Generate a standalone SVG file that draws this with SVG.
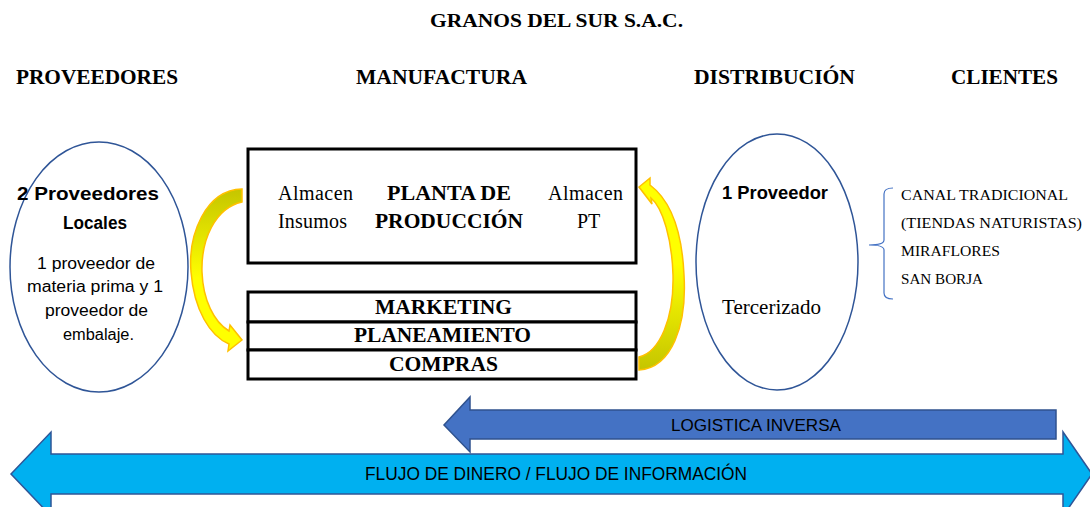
<svg xmlns="http://www.w3.org/2000/svg" width="1090" height="507" viewBox="0 0 1090 507">
<defs>
<style>
.serif{font-family:"Liberation Serif","Times New Roman",serif;fill:#000}
.b{font-weight:bold}
.sans{font-family:"Liberation Sans",Arial,sans-serif;fill:#000}
.hdr{font-size:20px;font-weight:bold}
.ell{fill:#fff;stroke:#2F5597;stroke-width:1.5}
.box{fill:#fff;stroke:#000;stroke-width:3}
.yarrow{stroke:#FFC000;stroke-width:1.5}
</style>
<linearGradient id="gL" x1="0" y1="0" x2="0" y2="1">
<stop offset="0" stop-color="#C5C500"/><stop offset="0.55" stop-color="#FFFF00"/><stop offset="1" stop-color="#FFFF00"/>
</linearGradient>
<linearGradient id="gR" x1="0" y1="1" x2="0" y2="0">
<stop offset="0" stop-color="#C5C500"/><stop offset="0.55" stop-color="#FFFF00"/><stop offset="1" stop-color="#FFFF00"/>
</linearGradient>
</defs>
<rect width="1090" height="507" fill="#fff"/>

<text class="serif b" x="430" y="27" font-size="19" textLength="253" lengthAdjust="spacingAndGlyphs">GRANOS DEL SUR S.A.C.</text>
<g id="headers">
<text class="serif hdr" x="16" y="84" textLength="162" lengthAdjust="spacingAndGlyphs">PROVEEDORES</text>
<text class="serif hdr" x="356" y="84" textLength="171" lengthAdjust="spacingAndGlyphs">MANUFACTURA</text>
<text class="serif hdr" x="694" y="84" textLength="161" lengthAdjust="spacingAndGlyphs">DISTRIBUCIÓN</text>
<text class="serif hdr" x="951" y="84" textLength="107" lengthAdjust="spacingAndGlyphs">CLIENTES</text>
</g>

<g id="proveedores">
<ellipse class="ell" cx="99" cy="267" rx="89" ry="125"/>
<text class="sans b" font-size="18" x="17" y="200" textLength="142" lengthAdjust="spacingAndGlyphs">2 Proveedores</text>
<text class="sans b" font-size="18" x="63" y="229" textLength="64" lengthAdjust="spacingAndGlyphs">Locales</text>
<text class="sans" font-size="16" x="37" y="269" textLength="118" lengthAdjust="spacingAndGlyphs">1 proveedor de</text>
<text class="sans" font-size="16" x="27" y="292" textLength="136" lengthAdjust="spacingAndGlyphs">materia prima y 1</text>
<text class="sans" font-size="16" x="45" y="316" textLength="103" lengthAdjust="spacingAndGlyphs">proveedor de</text>
<text class="sans" font-size="16" x="63" y="340" textLength="71" lengthAdjust="spacingAndGlyphs">embalaje.</text>
</g>

<g id="planta">
<rect class="box" x="248" y="149" width="388" height="114"/>
<text class="serif" font-size="20" x="278" y="200" textLength="75">Almacen</text>
<text class="serif" font-size="20" x="278" y="228" textLength="69">Insumos</text>
<text class="serif b" font-size="20" x="387" y="200" textLength="124" lengthAdjust="spacingAndGlyphs">PLANTA DE</text>
<text class="serif b" font-size="20" x="375" y="228" textLength="148" lengthAdjust="spacingAndGlyphs">PRODUCCIÓN</text>
<text class="serif" font-size="20" x="548" y="200" textLength="75">Almacen</text>
<text class="serif" font-size="20" x="577" y="228">PT</text>
</g>

<g id="areas">
<rect class="box" x="248" y="292" width="388" height="30"/>
<rect class="box" x="248" y="322" width="388" height="28"/>
<rect class="box" x="248" y="350" width="388" height="29"/>
<text class="serif b" font-size="20" x="375" y="314" textLength="137" lengthAdjust="spacingAndGlyphs">MARKETING</text>
<text class="serif b" font-size="20" x="354" y="342" textLength="177" lengthAdjust="spacingAndGlyphs">PLANEAMIENTO</text>
<text class="serif b" font-size="20" x="389" y="371" textLength="109" lengthAdjust="spacingAndGlyphs">COMPRAS</text>
</g>

<g id="distribucion">
<ellipse class="ell" cx="777" cy="262" rx="81" ry="128"/>
<text class="sans b" font-size="18" x="722" y="199" textLength="106" lengthAdjust="spacingAndGlyphs">1 Proveedor</text>
<text class="serif" font-size="20" x="722" y="314" textLength="99" lengthAdjust="spacingAndGlyphs">Tercerizado</text>
</g>

<g id="clientes">
<path d="M893,188 Q884,188 884,194 L884,240 Q884,245 869,245 Q884,245 884,250 L884,293 Q884,299 893,299" fill="none" stroke="#4472C4" stroke-width="1.2"/>
<text class="serif" font-size="15" x="901" y="200" textLength="167" lengthAdjust="spacingAndGlyphs">CANAL TRADICIONAL</text>
<text class="serif" font-size="15" x="901" y="228" textLength="181" lengthAdjust="spacingAndGlyphs">(TIENDAS NATURISTAS)</text>
<text class="serif" font-size="15" x="901" y="256" textLength="99" lengthAdjust="spacingAndGlyphs">MIRAFLORES</text>
<text class="serif" font-size="15" x="901" y="284" textLength="82" lengthAdjust="spacingAndGlyphs">SAN BORJA</text>
</g>

<g id="connectors">
<path class="yarrow" fill="url(#gL)" d="M242,189 C205,190 188,235 191,272 C194,310 210,336 229,344 L228,351 L242,340 L230,325 L229,331 C214,322 203,300 202,272 C201,240 215,208 242,202 Z"/>
<path class="yarrow" fill="url(#gR)" d="M639,370 C672,368 687,325 684,275 C682,230 670,200 650,185 L650,178 L639,187 L652,204 L651,198 C663,208 672,240 673,275 C674,318 660,352 639,357 Z"/>
<path d="M1056,410 L470,410 L470,397 L444,425 L470,452 L470,439 L1056,439 Z" fill="#4472C4" stroke="#2F528F" stroke-width="1.5"/>
<text class="sans" font-size="17" x="671" y="431" textLength="170" lengthAdjust="spacingAndGlyphs">LOGISTICA INVERSA</text>
<path d="M11,474 L51,432 L51,454 L1063,454 L1063,432 L1092,474 L1063,516 L1063,494 L51,494 L51,516 Z" fill="#00B0F0" stroke="#2F5597" stroke-width="1.5"/>
<text class="sans" font-size="18" x="365" y="480" textLength="382" lengthAdjust="spacingAndGlyphs">FLUJO DE DINERO / FLUJO DE INFORMACIÓN</text>
</g>
</svg>
